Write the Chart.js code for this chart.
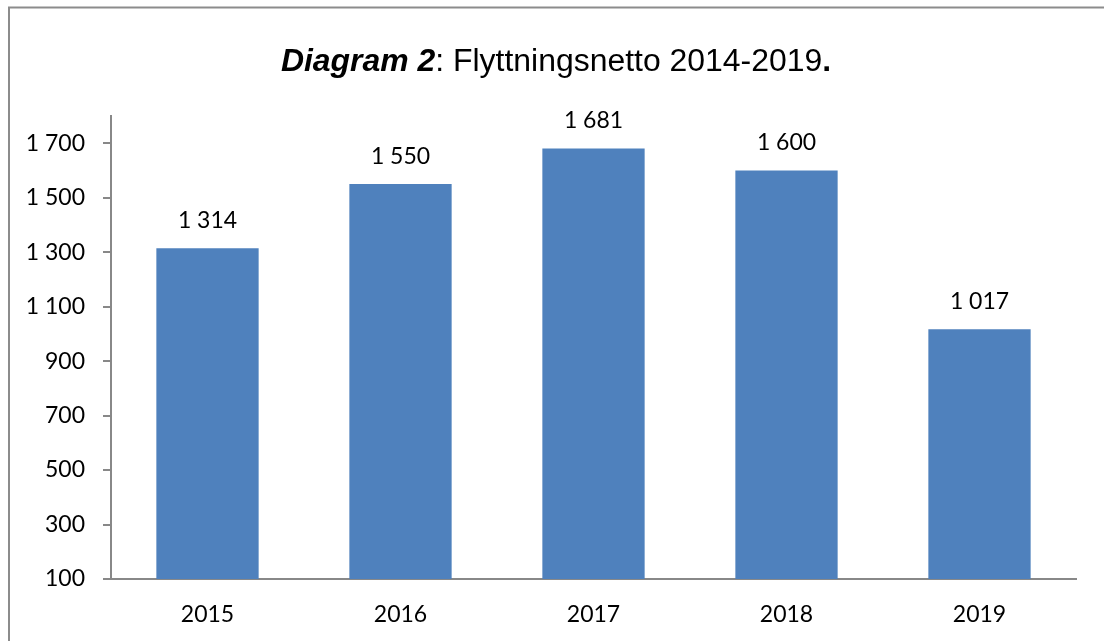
<!DOCTYPE html>
<html>
<head>
<meta charset="utf-8">
<script src="https://cdn.jsdelivr.net/npm/chart.js@4"></script>
<style>
  html, body { margin: 0; padding: 0; background: #fff; }
  #wrap { width: 1104px; height: 641px; position: relative; }
</style>
</head>
<body>
<div id="wrap"><canvas id="flyttChart" width="1104" height="641"></canvas></div>
<script>
// Flyttningsnetto per år
const years = ['2015', '2016', '2017', '2018', '2019'];
const netMigration = [1314, 1550, 1681, 1600, 1017];
const yTicks = [100, 300, 500, 700, 900, 1100, 1300, 1500, 1700];

const barColor = '#4F81BD';
const axisColor = '#888888';
const labelFont = { family: 'Lato', size: 23 };

// tusental med mellanslag, t.ex. 1 314
function fmt(v) {
    return String(v).replace(/\B(?=(\d{3})+(?!\d))/g, ' ');
}

// ram + titel med blandade typsnitt
const framePlugin = {
    id: 'frame',
    beforeDraw(chart) {
        const ctx = chart.ctx;
        ctx.save();
        ctx.strokeStyle = '#8c8c8c';
        ctx.lineWidth = 2;
        ctx.beginPath();
        ctx.moveTo(9, 641);
        ctx.lineTo(9, 7.5);
        ctx.lineTo(1104, 7.5);
        ctx.stroke();
        ctx.restore();
    },
    afterDraw(chart) {
        const ctx = chart.ctx;
        const stretch = 1.03;
        const parts = [
            { text: 'Diagram 2', font: 'italic bold 31px "Liberation Sans", Arial' },
            { text: ': Flyttningsnetto 2014-2019', font: '31px "Liberation Sans", Arial' },
            { text: '.', font: 'bold 31px "Liberation Sans", Arial' }
        ];
        ctx.save();
        ctx.fillStyle = '#000';
        ctx.textBaseline = 'alphabetic';
        ctx.textAlign = 'left';
        let total = 0;
        parts.forEach(p => { ctx.font = p.font; p.w = ctx.measureText(p.text).width; total += p.w; });
        ctx.translate(556, 71);
        ctx.scale(stretch, 1);
        let x = -total / 2;
        parts.forEach(p => { ctx.font = p.font; ctx.fillText(p.text, x, 0); x += p.w; });
        ctx.restore();
    }
};

// värden ovanför staplarna
const valueLabels = {
    id: 'valueLabels',
    afterDatasetsDraw(chart) {
        const ctx = chart.ctx;
        const meta = chart.getDatasetMeta(0);
        ctx.save();
        ctx.fillStyle = '#000';
        ctx.font = labelFont.size + 'px ' + labelFont.family;
        ctx.textAlign = 'center';
        ctx.textBaseline = 'alphabetic';
        meta.data.forEach((bar, i) => {
            ctx.fillText(fmt(netMigration[i]), bar.x, bar.y - 20);
        });
        ctx.restore();
    }
};

const ctx = document.getElementById('flyttChart').getContext('2d');
const myChart = new Chart(ctx, {
    type: 'bar',
    data: {
        labels: years,
        datasets: [{
            label: 'Flyttningsnetto',
            data: netMigration,
            backgroundColor: barColor,
            barPercentage: 0.53,
            categoryPercentage: 1
        }]
    },
    options: {
        responsive: false,
        animation: false,
        layout: { padding: { top: 116, left: 10, right: 28, bottom: 0 } },
        plugins: {
            legend: { display: false },
            title: { display: false },
            tooltip: { enabled: false }
        },
        scales: {
            x: {
                grid: { display: false },
                border: { display: true, color: axisColor, width: 2 },
                ticks: { color: '#000', font: labelFont, padding: 14 },
                afterFit(scale) { scale.height = 62; }
            },
            y: {
                min: 100,
                max: 1800,
                afterBuildTicks(scale) {
                    scale.ticks = yTicks.map(v => ({ value: v }));
                },
                grid: { drawOnChartArea: false, tickLength: 8, color: axisColor, lineWidth: 2 },
                border: { display: true, color: axisColor, width: 2 },
                ticks: {
                    color: '#000',
                    font: labelFont,
                    padding: 18,
                    callback: v => fmt(v)
                },
                afterFit(scale) { scale.width = 101; }
            }
        }
    },
    plugins: [framePlugin, valueLabels]
});
</script>
</body>
</html>
